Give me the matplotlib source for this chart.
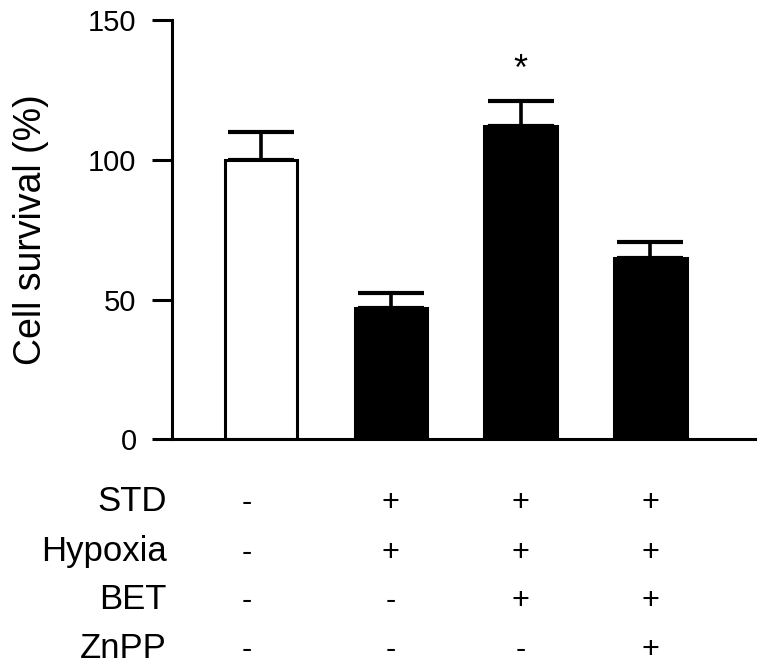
import matplotlib
matplotlib.use("Agg")
import matplotlib.pyplot as plt
import matplotlib.transforms as mtransforms

plt.rcParams["font.family"] = ["Liberation Sans", "DejaVu Sans"]

# --- data ---
groups = ["Control", "STD+Hypoxia", "STD+Hypoxia+BET", "STD+Hypoxia+BET+ZnPP"]
survival = [100, 47, 112, 65]
survival_err = [10, 5.5, 9, 5.5]
bar_colors = ["white", "black", "black", "black"]
star_group = 2
star_y = 132

row_labels = ["STD", "Hypoxia", "BET", "ZnPP"]
row_signs = [
  ["-", "+", "+", "+"],
  ["-", "+", "+", "+"],
  ["-", "-", "+", "+"],
  ["-", "-", "-", "+"],
]
yticks = [0, 50, 100, 150]

fig = plt.figure(figsize=(7.6, 6.67), dpi=100)
ax = fig.add_axes([0.2263, 0.3411, 0.7671, 0.6289])

x = list(range(len(groups)))
ax.bar(
  x,
  survival,
  width=0.56,
  color=bar_colors,
  edgecolor="black",
  linewidth=2.2,
  zorder=2,
)
ax.errorbar(
  x,
  survival,
  yerr=[[0] * len(survival_err), survival_err],
  fmt="none",
  ecolor="black",
  elinewidth=2.6,
  capsize=24,
  capthick=3,
  zorder=1,
)
ax.text(x[star_group], star_y, "*", ha="center", va="center", fontsize=26)

ax.set_xlim(-0.686, 3.805)
ax.set_ylim(0, 150)
ax.set_yticks(yticks)
ax.set_xticks([])
ax.tick_params(axis="y", length=14.5, width=2.2, pad=11, labelsize=21)
for side in ("top", "right"):
  ax.spines[side].set_visible(False)
for side in ("left", "bottom"):
  ax.spines[side].set_linewidth(2.2)
ax.set_ylabel("Cell survival (%)", fontsize=27, labelpad=28)

# treatment table under the axis
row_y = [0.2340, 0.1590, 0.0870, 0.0130]
sign_x = [-0.11, 1, 2, 3]
trans = mtransforms.blended_transform_factory(ax.transData, fig.transFigure)
for label, signs, yy in zip(row_labels, row_signs, row_y):
  fig.text(0.2197, yy, label, ha="right", va="baseline", fontsize=25)
  for sx, s in zip(sign_x, signs):
    ax.text(sx, yy, s, transform=trans, ha="center", va="baseline",
            fontsize=22, clip_on=False)

fig.savefig("out.png", dpi=100)
